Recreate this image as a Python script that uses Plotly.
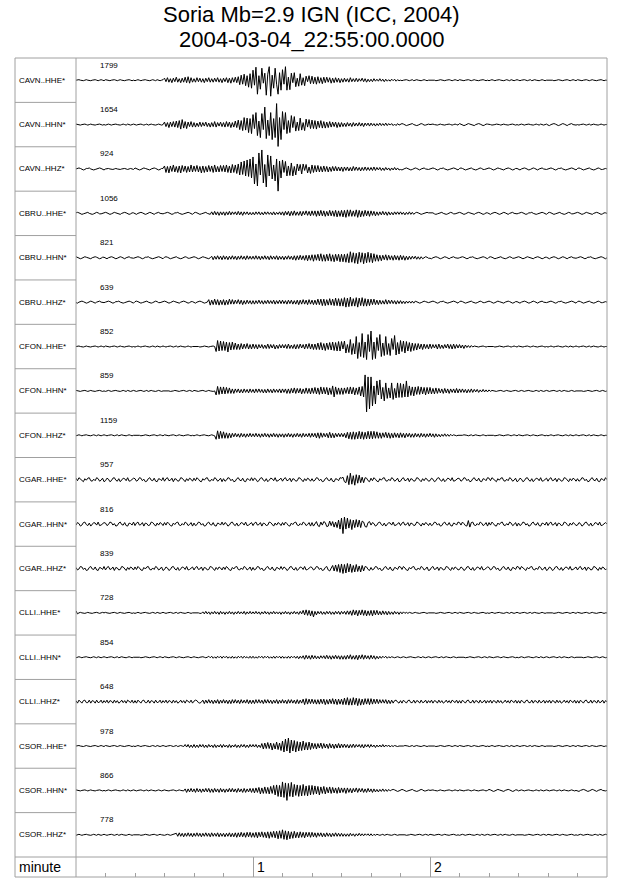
import plotly.graph_objects as go

# channel names and the peak counts printed over each trace
channels = ['CAVN..HHE*', 'CAVN..HHN*', 'CAVN..HHZ*',
            'CBRU..HHE*', 'CBRU..HHN*', 'CBRU..HHZ*',
            'CFON..HHE*', 'CFON..HHN*', 'CFON..HHZ*',
            'CGAR..HHE*', 'CGAR..HHN*', 'CGAR..HHZ*',
            'CLLI..HHE*', 'CLLI..HHN*', 'CLLI..HHZ*',
            'CSOR..HHE*', 'CSOR..HHN*', 'CSOR..HHZ*']
peaks = [1799, 1654, 924, 1056, 821, 639, 852, 859, 1159,
         957, 816, 839, 728, 854, 648, 978, 866, 778]
minute_labels = [1, 2]

# two samples per second from 22:55:00
# (units = half a screen pixel, one line = 10 s)
CAVN_HHE = [
    0, 1, 1, 0, -1, -1, 0, 1, 0, -1, -1, 0, 1, 1, 0, -1, 0, 1, 0, -1,
    1, 0, -1, -1, 0, 1, 1, 0, -1, 0, 1, 0, -1, -1, 0, 1, 1, 0, -1, 0,
    -1, 0, 1, 0, -1, 0, 1, 1, 0, -1, -1, 0, 1, 0, -1, 1, 0, -1, 0, 1,
    4, -3, 5, -4, 3, -5, 4, -3, 6, -4, 3, -5, 4, -4, 6, -5, 7, -6, 5, -4,
    3, -4, 5, -3, 4, -4, 3, -5, 4, -3, 5, -4, 3, -4, 4, -3, 5, -4, 3, -5,
    4, -3, 5, -5, 4, -6, 5, -4, 6, -5, 7, -9, 10, -8, 12, -11, 9, -14, 13, -16,
    20, -10, 26, -28, 9, -18, 24, -6, 14, -30, 12, 27, -32, 10, -16, 24, -8, -28, 15, -20,
    21, -8, 27, -20, 6, -19, 14, -5, 15, -13, 4, -12, 13, -10, 5, -11, 8, -3, 9, -7,
    8, -7, 6, -8, 7, -6, 5, -7, 6, -5, 6, -4, 5, -6, 4, -5, 5, -4, 4, -5,
    3, -4, 4, -3, 3, -4, 5, -3, 3, -3, 4, -3, 3, -2, 4, -3, 3, -4, 2, -3,
    2, -3, 3, -2, 2, -2, 3, -2, 2, -3, 2, -2, 1, -2, 2, -1, 2, -2, 1, -1,
    0, -1, 0, 1, 1, 0, -1, 0, 1, -1, 0, 1, 0, -1, -1, 0, 1, 0, -1, 0,
    0, 1, 1, 0, -1, -1, 0, 1, 0, -1, -1, 0, 1, 1, 0, -1, 0, 1, 0, -1,
    1, 0, -1, -1, 0, 1, 1, 0, -1, 0, 1, 0, -1, -1, 0, 1, 1, 0, -1, 0,
    -1, 0, 1, 0, -1, 0, 1, 1, 0, -1, -1, 0, 1, 0, -1, 1, 0, -1, 0, 1,
    0, -1, 0, 1, 1, 0, -1, 0, 1, -1, 0, 1, 0, -1, -1, 0, 1, 0, -1, 0,
    0, 1, 1, 0, -1, -1, 0, 1, 0, -1, -1, 0, 1, 1, 0, -1, 0, 1, 0, -1,
    1, 0, -1, -1, 0, 1, 1, 0, -1, 0, 1, 0, -1, -1, 0, 1, 1, 0, -1, 0,
    0]
CAVN_HHN = [
    1, 0, -1, -1, 0, 1, 1, 0, -1, 0, 1, 0, -1, -1, 0, 1, 1, 0, -1, 0,
    -1, 0, 1, 0, -1, 0, 1, 1, 0, -1, -1, 0, 1, 0, -1, 1, 0, -1, 0, 1,
    0, -1, 0, 1, 1, 0, -1, 0, 1, -1, 0, 1, 0, -1, -1, 0, 1, 0, -1, 0,
    5, -4, 4, -6, 5, -4, 6, -5, 7, -6, 8, -9, 10, -7, 6, -8, 5, -4, 6, -5,
    4, -5, 3, -4, 5, -4, 4, -3, 5, -4, 3, -5, 4, -4, 6, -5, 4, -3, 5, -4,
    4, -5, 6, -4, 5, -6, 4, -5, 7, -6, 9, -10, 8, -12, 14, -11, 13, -16, 12, -18,
    20, -8, 24, -22, 7, -26, 22, -10, 35, -28, 9, -22, 24, -30, 12, -26, 42, -44, 14, -30,
    26, -10, 24, -18, 8, -16, 18, -6, 16, -13, 5, -12, 13, -11, 4, -12, 11, -5, 10, -8,
    9, -8, 8, -9, 7, -6, 8, -7, 6, -7, 5, -6, 6, -5, 5, -4, 5, -6, 4, -5,
    4, -4, 3, -4, 4, -3, 3, -4, 4, -3, 3, -3, 4, -3, 3, -4, 3, -2, 3, -3,
    3, -2, 2, -3, 2, -2, 3, -2, 2, -2, 3, -2, 2, -1, 2, -2, 1, -2, 2, -1,
    1, 2, 1, -1, -2, -1, 0, 1, 2, 0, -1, -2, -1, 1, 2, 1, -1, -1, 0, 1,
    0, 1, 1, 0, -1, -1, 0, 1, 0, -1, -1, 0, 1, 1, 0, -1, 0, 1, 0, -1,
    2, 1, -1, -2, -1, 1, 2, 1, 0, -1, -2, 0, 1, 2, 1, -1, -2, -1, 1, 1,
    1, 0, -1, -1, 0, 1, 1, 0, -1, 0, 1, 0, -1, -1, 0, 1, 1, 0, -1, 0,
    -1, 0, 1, 0, -1, 0, 1, 1, 0, -1, -1, 0, 1, 0, -1, 1, 0, -1, 0, 1,
    -1, -2, 0, 1, 2, 1, -1, -2, -1, 0, 2, 1, -1, -2, 0, 1, 2, 0, -1, -1,
    0, -1, 0, 1, 1, 0, -1, 0, 1, -1, 0, 1, 0, -1, -1, 0, 1, 0, -1, 0,
    0]
CAVN_HHZ = [
    0, 1, 2, 1, -1, -2, -1, 1, 1, 2, 0, -1, -2, -1, 0, 1, 2, 1, -1, -2,
    0, 1, 1, 0, -1, -1, 0, 1, 0, -1, -1, 0, 1, 1, 0, -1, 0, 1, 0, -1,
    2, 1, -1, -2, -1, 1, 2, 1, 0, -1, -2, 0, 1, 2, 1, -1, -2, -1, 1, 1,
    6, -7, 5, -8, 6, -5, 8, -6, 5, -7, 6, -8, 7, -5, 6, -7, 5, -6, 8, -6,
    6, -5, 7, -6, 5, -8, 6, -7, 5, -6, 7, -5, 6, -7, 8, -6, 5, -6, 7, -5,
    7, -6, 8, -7, 6, -8, 9, -7, 8, -9, 10, -12, 14, -11, 16, -14, 18, -15, 20, -18,
    24, -30, 10, -34, 32, -12, 38, -28, 9, -36, 28, -14, 26, -20, 8, -24, 20, -45, 16, -18,
    18, -7, 15, -14, 6, -13, 12, -14, 5, -12, 10, -4, 9, -10, 10, -3, 9, -8, 4, -9,
    8, -7, 7, -6, 7, -6, 5, -6, 6, -5, 5, -6, 4, -5, 5, -4, 5, -4, 4, -4,
    4, -5, 4, -3, 4, -4, 3, -4, 5, -3, 4, -3, 3, -4, 3, -3, 4, -3, 3, -3,
    3, -3, 4, -3, 3, -2, 3, -3, 2, -3, 3, -2, 2, -3, 2, -2, 3, -2, 2, -2,
    -1, -2, 0, 1, 2, 1, -1, -2, -1, 0, 2, 1, -1, -2, 0, 1, 2, 0, -1, -1,
    0, 1, 2, 1, -1, -2, -1, 1, 1, 2, 0, -1, -2, -1, 0, 1, 2, 1, -1, -2,
    1, 2, 1, -1, -2, -1, 0, 1, 2, 0, -1, -2, -1, 1, 2, 1, -1, -1, 0, 1,
    2, 1, -1, -2, -1, 1, 2, 1, 0, -1, -2, 0, 1, 2, 1, -1, -2, -1, 1, 1,
    -1, -2, 0, 1, 2, 1, -1, -2, -1, 0, 2, 1, -1, -2, 0, 1, 2, 0, -1, -1,
    0, 1, 2, 1, -1, -2, -1, 1, 1, 2, 0, -1, -2, -1, 0, 1, 2, 1, -1, -2,
    1, 2, 1, -1, -2, -1, 0, 1, 2, 0, -1, -2, -1, 1, 2, 1, -1, -1, 0, 1,
    0]
CBRU_HHE = [
    1, 2, 1, -1, -2, -1, 0, 1, 2, 0, -1, -2, -1, 1, 2, 1, -1, -1, 0, 1,
    2, 1, -1, -2, -1, 1, 2, 1, 0, -1, -2, 0, 1, 2, 1, -1, -2, -1, 1, 1,
    -1, -2, 0, 1, 2, 1, -1, -2, -1, 0, 2, 1, -1, -2, 0, 1, 2, 0, -1, -1,
    0, 1, 2, 1, -1, -2, -1, 1, 1, 2, 0, -1, -2, -1, 0, 1, 2, 1, -1, -2,
    1, 2, 1, -1, -2, -1, 0, 1, 2, 0, -1, -2, 3, -3, 4, -3, 3, -4, 3, -3,
    3, -4, 3, -3, 4, -3, 3, -2, 3, -3, 4, -3, 3, -4, 3, -2, 3, -3, 2, -3,
    2, -3, 3, -2, 3, -3, 2, -3, 3, -2, 3, -2, 2, -3, 3, -3, 2, -2, 3, -3,
    3, -4, 4, -3, 4, -5, 4, -4, 5, -4, 3, -4, 4, -5, 4, -3, 5, -4, 4, -5,
    5, -4, 5, -6, 5, -5, 6, -5, 5, -6, 4, -5, 6, -5, 5, -6, 6, -7, 5, -6,
    6, -7, 6, -8, 7, -6, 7, -6, 5, -6, 7, -8, 6, -7, 5, -6, 6, -5, 5, -6,
    5, -4, 4, -5, 3, -4, 3, -3, 4, -3, 3, -4, 3, -3, 2, -3, 3, -2, 3, -2,
    3, -2, 2, -3, 2, -2, 3, -2, 2, -2, 1, 2, 1, -1, -2, -1, 0, 1, 2, 1,
    1, 2, 1, -1, -2, -1, 0, 1, 2, 0, -1, -2, -1, 1, 2, 1, -1, -1, 0, 1,
    2, 1, -1, -2, -1, 1, 2, 1, 0, -1, -2, 0, 1, 2, 1, -1, -2, -1, 1, 1,
    -1, -2, 0, 1, 2, 1, -1, -2, -1, 0, 2, 1, -1, -2, 0, 1, 2, 0, -1, -1,
    0, 1, 2, 1, -1, -2, -1, 1, 1, 2, 0, -1, -2, -1, 0, 1, 2, 1, -1, -2,
    1, 2, 1, -1, -2, -1, 0, 1, 2, 0, -1, -2, -1, 1, 2, 1, -1, -1, 0, 1,
    2, 1, -1, -2, -1, 1, 2, 1, 0, -1, -2, 0, 1, 2, 1, -1, -2, -1, 1, 1,
    0]
CBRU_HHN = [
    2, 1, -1, -2, -1, 1, 2, 1, 0, -1, -2, 0, 1, 2, 1, -1, -2, -1, 1, 1,
    -1, -2, 0, 1, 2, 1, -1, -2, -1, 0, 2, 1, -1, -2, 0, 1, 2, 0, -1, -1,
    0, 1, 2, 1, -1, -2, -1, 1, 1, 2, 0, -1, -2, -1, 0, 1, 2, 1, -1, -2,
    1, 2, 1, -1, -2, -1, 0, 1, 2, 0, -1, -2, -1, 1, 2, 1, -1, -1, 0, 1,
    2, 1, -1, -2, -1, 1, 2, 1, 0, -1, -2, 0, 3, -4, 3, -3, 4, -3, 3, -4,
    4, -3, 3, -4, 3, -3, 4, -3, 3, -4, 3, -3, 4, -3, 3, -4, 4, -3, 3, -3,
    3, -3, 4, -3, 3, -4, 3, -3, 4, -3, 3, -4, 4, -3, 3, -3, 4, -4, 3, -3,
    3, -4, 3, -3, 4, -3, 3, -4, 4, -5, 4, -4, 5, -4, 4, -5, 5, -6, 5, -5,
    6, -7, 6, -5, 7, -6, 8, -7, 6, -7, 7, -6, 8, -7, 6, -8, 7, -6, 7, -8,
    7, -8, 7, -9, 8, -10, 12, -9, 10, -11, 9, -12, 11, -9, 10, -12, 9, -10, 11, -9,
    9, -10, 8, -7, 6, -7, 5, -6, 5, -4, 6, -5, 5, -4, 4, -5, 5, -4, 4, -5,
    5, -4, 4, -5, 3, -4, 3, -3, 3, -2, 3, -3, 2, -3, 2, -2, 1, 2, 1, -1,
    -1, -2, 0, 1, 2, 1, -1, -2, -1, 0, 2, 1, -1, -2, 0, 1, 2, 0, -1, -1,
    0, 1, 2, 1, -1, -2, -1, 1, 1, 2, 0, -1, -2, -1, 0, 1, 2, 1, -1, -2,
    1, 2, 1, -1, -2, -1, 0, 1, 2, 0, -1, -2, -1, 1, 2, 1, -1, -1, 0, 1,
    2, 1, -1, -2, -1, 1, 2, 1, 0, -1, -2, 0, 1, 2, 1, -1, -2, -1, 1, 1,
    -1, -2, 0, 1, 2, 1, -1, -2, -1, 0, 2, 1, -1, -2, 0, 1, 2, 0, -1, -1,
    0, 1, 2, 1, -1, -2, -1, 1, 1, 2, 0, -1, -2, -1, 0, 1, 2, 1, -1, -2,
    0]
CBRU_HHZ = [
    -1, -2, 0, 1, 2, 1, -1, -2, -1, 0, 2, 1, -1, -2, 0, 1, 2, 0, -1, -1,
    0, 1, 2, 1, -1, -2, -1, 1, 1, 2, 0, -1, -2, -1, 0, 1, 2, 1, -1, -2,
    1, 2, 1, -1, -2, -1, 0, 1, 2, 0, -1, -2, -1, 1, 2, 1, -1, -1, 0, 1,
    2, 1, -1, -2, -1, 1, 2, 1, 0, -1, -2, 0, 1, 2, 1, -1, -2, -1, 1, 1,
    -1, -2, 0, 1, 2, 1, -1, -2, -1, 0, 5, -6, 4, -5, 6, -5, 5, -6, 4, -5,
    5, -6, 4, -5, 6, -4, 5, -4, 4, -3, 5, -4, 4, -5, 3, -4, 4, -3, 3, -4,
    3, -4, 3, -3, 4, -3, 3, -4, 3, -3, 4, -3, 3, -3, 4, -4, 3, -3, 4, -3,
    4, -3, 3, -4, 4, -3, 4, -4, 3, -4, 4, -5, 4, -4, 5, -4, 4, -5, 5, -4,
    4, -5, 4, -5, 6, -5, 6, -7, 6, -7, 5, -6, 7, -6, 6, -7, 8, -7, 7, -8,
    7, -8, 9, -10, 8, -9, 10, -8, 7, -8, 9, -10, 8, -7, 9, -8, 7, -8, 6, -7,
    6, -5, 6, -5, 4, -5, 4, -4, 3, -4, 5, -4, 4, -3, 4, -3, 3, -4, 3, -3,
    3, -3, 2, -3, 2, -2, 2, -2, 2, -2, 2, 1, -1, -2, -1, 1, 2, 1, 0, -1,
    0, 1, 2, 1, -1, -2, -1, 1, 1, 2, 0, -1, -2, -1, 0, 1, 2, 1, -1, -2,
    1, 2, 1, -1, -2, -1, 0, 1, 2, 0, -1, -2, -1, 1, 2, 1, -1, -1, 0, 1,
    2, 1, -1, -2, -1, 1, 2, 1, 0, -1, -2, 0, 1, 2, 1, -1, -2, -1, 1, 1,
    -1, -2, 0, 1, 2, 1, -1, -2, -1, 0, 2, 1, -1, -2, 0, 1, 2, 0, -1, -1,
    0, 1, 2, 1, -1, -2, -1, 1, 1, 2, 0, -1, -2, -1, 0, 1, 2, 1, -1, -2,
    1, 2, 1, -1, -2, -1, 0, 1, 2, 0, -1, -2, -1, 1, 2, 1, -1, -1, 0, 1,
    0]
CFON_HHE = [
    0, 1, 1, 0, -1, -1, 0, 1, 0, -1, -1, 0, 1, 1, 0, -1, 0, 1, 0, -1,
    1, 0, -1, -1, 0, 1, 1, 0, -1, 0, 1, 0, -1, -1, 0, 1, 1, 0, -1, 0,
    -1, 0, 1, 0, -1, 0, 1, 1, 0, -1, -1, 0, 1, 0, -1, 1, 0, -1, 0, 1,
    0, -1, 0, 1, 1, 0, -1, 0, 1, -1, 0, 1, 0, -1, -1, 0, 1, 0, -1, 0,
    0, 1, 1, 0, -1, -1, 0, 1, 0, -1, -1, 0, 1, 1, 0, -10, 12, -9, 11, -8,
    10, -8, 9, -11, 8, -7, 9, -6, 7, -6, 5, -6, 6, -5, 5, -4, 6, -5, 4, -5,
    5, -4, 4, -5, 4, -3, 4, -4, 3, -4, 5, -4, 4, -3, 4, -5, 3, -4, 4, -3,
    4, -3, 4, -4, 5, -4, 3, -4, 4, -5, 4, -4, 5, -3, 4, -5, 5, -4, 6, -5,
    5, -6, 5, -6, 7, -6, 8, -7, 6, -8, 7, -6, 8, -7, 9, -8, 8, -9, 10, -9,
    10, -5, 11, -13, 4, -12, 14, -16, 6, -15, 20, -24, 8, -20, 26, -22, 9, -26, 24, -10,
    31, -26, 9, -24, 18, -8, 24, -20, 7, -18, 20, -16, 6, -18, 16, -6, 22, -17, 8, -15,
    12, -10, 11, -13, 10, -9, 8, -10, 7, -8, 6, -7, 6, -5, 5, -6, 5, -4, 4, -5,
    5, -4, 4, -3, 4, -5, 5, -4, 3, -4, 4, -3, 5, -4, 4, -5, 5, -4, 4, -3,
    4, -3, 3, -4, 3, -2, 2, -2, 2, -1, 1, 0, -1, -1, 0, 1, 1, 0, -1, 0,
    0, 1, 1, 0, -1, -1, 0, 1, 0, -1, -1, 0, 1, 1, 0, -1, 0, 1, 0, -1,
    1, 0, -1, -1, 0, 1, 1, 0, -1, 0, 1, 0, -1, -1, 0, 1, 1, 0, -1, 0,
    -1, 0, 1, 0, -1, 0, 1, 1, 0, -1, -1, 0, 1, 0, -1, 1, 0, -1, 0, 1,
    0, -1, 0, 1, 1, 0, -1, 0, 1, -1, 0, 1, 0, -1, -1, 0, 1, 0, -1, 0,
    0]
CFON_HHN = [
    1, 0, -1, -1, 0, 1, 1, 0, -1, 0, 1, 0, -1, -1, 0, 1, 1, 0, -1, 0,
    -1, 0, 1, 0, -1, 0, 1, 1, 0, -1, -1, 0, 1, 0, -1, 1, 0, -1, 0, 1,
    0, -1, 0, 1, 1, 0, -1, 0, 1, -1, 0, 1, 0, -1, -1, 0, 1, 0, -1, 0,
    0, 1, 1, 0, -1, -1, 0, 1, 0, -1, -1, 0, 1, 1, 0, -1, 0, 1, 0, -1,
    1, 0, -1, -1, 0, 1, 1, 0, -1, 0, 1, 0, -1, -1, 0, -8, 9, -7, 8, -6,
    8, -6, 7, -5, 6, -5, 4, -5, 4, -3, 4, -4, 3, -4, 4, -3, 3, -4, 4, -3,
    3, -4, 4, -3, 4, -3, 3, -4, 3, -4, 4, -3, 3, -4, 4, -3, 3, -3, 4, -4,
    4, -3, 4, -5, 4, -5, 5, -4, 6, -5, 5, -4, 5, -6, 4, -5, 6, -5, 5, -6,
    6, -5, 7, -6, 6, -7, 8, -6, 7, -6, 7, -8, 6, -7, 10, -12, 8, -7, 6, -7,
    6, -7, 6, -5, 7, -6, 8, -6, 7, -8, 6, -7, 8, -10, 9, -12, 32, -42, 28, -36,
    28, -30, 10, -26, 20, -8, 22, -16, 7, -20, 16, -15, 6, -14, 16, -17, 5, -14, 16, -13,
    15, -13, 14, -12, 20, -12, 10, -9, 8, -10, 8, -7, 9, -7, 8, -6, 7, -8, 7, -6,
    7, -6, 5, -6, 6, -5, 5, -4, 4, -5, 5, -4, 4, -5, 4, -3, 4, -4, 5, -4,
    4, -3, 4, -3, 3, -4, 3, -3, 4, -3, 3, -2, 3, -3, 2, -2, 3, -2, 2, -2,
    2, -1, 1, 0, -1, -1, 0, 1, 1, 0, -1, 0, 1, 0, -1, -1, 0, 1, 1, 0,
    -1, 0, 1, 0, -1, 0, 1, 1, 0, -1, -1, 0, 1, 0, -1, 1, 0, -1, 0, 1,
    0, -1, 0, 1, 1, 0, -1, 0, 1, -1, 0, 1, 0, -1, -1, 0, 1, 0, -1, 0,
    0, 1, 1, 0, -1, -1, 0, 1, 0, -1, -1, 0, 1, 1, 0, -1, 0, 1, 0, -1,
    0]
CFON_HHZ = [
    -1, 0, 1, 0, -1, 0, 1, 1, 0, -1, -1, 0, 1, 0, -1, 1, 0, -1, 0, 1,
    0, -1, 0, 1, 1, 0, -1, 0, 1, -1, 0, 1, 0, -1, -1, 0, 1, 0, -1, 0,
    0, 1, 1, 0, -1, -1, 0, 1, 0, -1, -1, 0, 1, 1, 0, -1, 0, 1, 0, -1,
    1, 0, -1, -1, 0, 1, 1, 0, -1, 0, 1, 0, -1, -1, 0, 1, 1, 0, -1, 0,
    -1, 0, 1, 0, -1, 0, 1, 1, 0, -1, -1, 0, 1, 0, -1, -8, 9, -7, 8, -6,
    7, -6, 5, -6, 4, -5, 4, -3, 4, -3, 3, -4, 4, -3, 3, -4, 3, -3, 4, -3,
    3, -3, 4, -3, 3, -4, 3, -3, 4, -3, 3, -4, 3, -3, 4, -3, 3, -4, 3, -3,
    3, -4, 3, -3, 4, -3, 3, -4, 3, -3, 4, -3, 3, -4, 4, -3, 3, -3, 4, -4,
    4, -3, 4, -5, 5, -6, 5, -4, 4, -3, 4, -5, 6, -5, 4, -5, 4, -3, 4, -3,
    4, -3, 4, -5, 6, -7, 6, -8, 7, -8, 6, -7, 8, -7, 7, -8, 6, -7, 8, -7,
    8, -7, 8, -6, 7, -6, 5, -6, 5, -4, 6, -5, 5, -6, 4, -5, 5, -4, 4, -5,
    5, -4, 4, -5, 4, -3, 4, -4, 3, -4, 4, -3, 3, -4, 4, -3, 3, -4, 3, -3,
    4, -3, 3, -4, 3, -3, 2, -3, 2, -2, 3, -2, 2, -2, 2, -1, 1, 0, -1, 0,
    0, -1, 0, 1, 1, 0, -1, 0, 1, -1, 0, 1, 0, -1, -1, 0, 1, 0, -1, 0,
    0, 1, 1, 0, -1, -1, 0, 1, 0, -1, -1, 0, 1, 1, 0, -1, 0, 1, 0, -1,
    1, 0, -1, -1, 0, 1, 1, 0, -1, 0, 1, 0, -1, -1, 0, 1, 1, 0, -1, 0,
    -1, 0, 1, 0, -1, 0, 1, 1, 0, -1, -1, 0, 1, 0, -1, 1, 0, -1, 0, 1,
    0, -1, 0, 1, 1, 0, -1, 0, 1, -1, 0, 1, 0, -1, -1, 0, 1, 0, -1, 0,
    0]
CGAR_HHE = [
    3, -2, 4, 1, -3, -4, 2, -1, 3, 4, -2, -3, 1, -2, 4, 2, -3, -1, 3, -4,
    -2, 3, 1, -4, -2, 3, 4, -1, -3, 2, -4, -1, 3, 2, -2, 4, -3, -2, 1, 3,
    2, -3, -1, 4, 3, -2, 1, -4, -3, 2, 4, -1, -2, 3, -3, -4, 2, 1, -2, 4,
    -3, 2, 4, -2, -1, 3, -4, 2, 1, -3, -2, 4, 3, -1, -4, 2, -2, 3, 1, -3,
    3, -2, 4, 1, -3, -4, 2, -1, 3, 4, -2, -3, 1, -2, 4, 2, -3, -1, 3, -4,
    2, -3, -1, 4, 3, -2, 1, -4, -3, 2, 4, -1, -2, 3, -3, -4, 2, 1, -2, 4,
    -2, 3, 1, -4, -2, 3, 4, -1, -3, 2, -4, -1, 3, 2, -2, 4, -3, -2, 1, 3,
    -3, 2, 4, -2, -1, 3, -4, 2, 1, -3, -2, 4, 3, -1, -4, 2, -2, 3, 1, -3,
    2, -3, -1, 4, 3, -2, 1, -4, -3, 2, 4, -1, -2, 3, -3, -4, 2, 1, -2, 4,
    3, 5, -4, -6, 8, -10, 13, -9, 8, -11, 10, -7, 9, -6, 5, -6, 4, 3, -2, -4,
    3, -2, 4, 1, -3, -4, 2, -1, 3, 4, -2, -3, 1, -2, 4, 2, -3, -1, 3, -4,
    -3, 2, 4, -2, -1, 3, -4, 2, 1, -3, -2, 4, 3, -1, -4, 2, -2, 3, 1, -3,
    -2, 3, 1, -4, -2, 3, 4, -1, -3, 2, -4, -1, 3, 2, -2, 4, -3, -2, 1, 3,
    2, -3, -1, 4, 3, -2, 1, -4, -3, 2, 4, -1, -2, 3, -3, -4, 2, 1, -2, 4,
    3, -2, 4, 1, -3, -4, 2, -1, 3, 4, -2, -3, 1, -2, 4, 2, -3, -1, 3, -4,
    -2, 3, 1, -4, -2, 3, 4, -1, -3, 2, -4, -1, 3, 2, -2, 4, -3, -2, 1, 3,
    -3, 2, 4, -2, -1, 3, -4, 2, 1, -3, -2, 4, 3, -1, -4, 2, -2, 3, 1, -3,
    2, -3, -1, 4, 3, -2, 1, -4, -3, 2, 4, -1, -2, 3, -3, -4, 2, 1, -2, 4,
    0]
CGAR_HHN = [
    -2, 3, 1, -4, -2, 3, 4, -1, -3, 2, -4, -1, 3, 2, -2, 4, -3, -2, 1, 3,
    2, -3, -1, 4, 3, -2, 1, -4, -3, 2, 4, -1, -2, 3, -3, -4, 2, 1, -2, 4,
    -3, 2, 4, -2, -1, 3, -4, 2, 1, -3, -2, 4, 3, -1, -4, 2, -2, 3, 1, -3,
    3, -2, 4, 1, -3, -4, 2, -1, 3, 4, -2, -3, 1, -2, 4, 2, -3, -1, 3, -4,
    2, -3, -1, 4, 3, -2, 1, -4, -3, 2, 4, -1, -2, 3, -3, -4, 2, 1, -2, 4,
    -2, 3, 1, -4, -2, 3, 4, -1, -3, 2, -4, -1, 3, 2, -2, 4, -3, -2, 1, 3,
    -3, 2, 4, -2, -1, 3, -4, 2, 1, -3, -2, 4, 3, -1, -4, 2, -2, 3, 1, -3,
    3, -2, 4, 1, -3, -4, 2, -1, 3, 4, -2, -3, 1, -2, 4, 2, -3, -1, 3, -4,
    3, -4, 2, 5, -3, -5, 4, -2, 5, 3, -5, -4, 6, -3, 5, -6, 4, -7, 8, -10,
    12, -19, 14, -10, 12, -8, 9, -11, 8, -7, 9, -6, 8, -7, 6, 4, -5, -6, 3, 5,
    -2, 3, 1, -4, -2, 3, 4, -1, -3, 2, -4, -1, 3, 2, -2, 4, -3, -2, 1, 3,
    -3, 2, 4, -2, -1, 3, -4, 2, 1, -3, -2, 4, 3, -1, -4, 2, -2, 3, 1, -3,
    2, -3, -1, 4, 3, -2, 1, -4, -3, 2, 4, -1, -2, 3, -3, -4, 2, 1, -2, 4,
    3, -2, 4, 1, -3, -4, 7, -6, 3, 4, -2, -3, 1, -2, 4, 2, -3, -1, 3, -4,
    3, -2, 4, 1, -3, -4, 2, -1, 3, 4, -2, -3, 1, -2, 4, 2, -3, -1, 3, -4,
    2, -3, -1, 4, 3, -2, 1, -4, -3, 2, 4, -1, -2, 3, -3, -4, 2, 1, -2, 4,
    -3, 2, 4, -2, -1, 3, -4, 2, 1, -3, -2, 4, 3, -1, -4, 2, -2, 3, 1, -3,
    -2, 3, 1, -4, -2, 3, 4, -1, -3, 2, -4, -1, 3, 2, -2, 4, -3, -2, 1, 3,
    0]
CGAR_HHZ = [
    2, -3, -1, 4, 3, -2, 1, -4, -3, 2, 4, -1, -2, 3, -3, -4, 2, 1, -2, 4,
    -3, 2, 4, -2, -1, 3, -4, 2, 1, -3, -2, 4, 3, -1, -4, 2, -2, 3, 1, -3,
    3, -2, 4, 1, -3, -4, 2, -1, 3, 4, -2, -3, 1, -2, 4, 2, -3, -1, 3, -4,
    -2, 3, 1, -4, -2, 3, 4, -1, -3, 2, -4, -1, 3, 2, -2, 4, -3, -2, 1, 3,
    -3, 2, 4, -2, -1, 3, -4, 2, 1, -3, -2, 4, 3, -1, -4, 2, -2, 3, 1, -3,
    3, -2, 4, 1, -3, -4, 2, -1, 3, 4, -2, -3, 1, -2, 4, 2, -3, -1, 3, -4,
    2, -3, -1, 4, 3, -2, 1, -4, -3, 2, 4, -1, -2, 3, -3, -4, 2, 1, -2, 4,
    -2, 3, 1, -4, -2, 3, 4, -1, -3, 2, -4, -1, 3, 2, -2, 4, -3, -2, 1, 3,
    2, -3, -1, 4, 3, -2, 1, -4, -3, 2, 4, -3, -5, 2, 6, -5, 7, -6, 8, -8,
    9, -10, 8, -9, 10, -7, 9, -8, 6, -7, 8, -6, 5, -7, 6, -5, 4, 3, -2, -4,
    2, -3, -1, 4, 3, -2, 1, -4, -3, 2, 4, -1, -2, 3, -3, -4, 2, 1, -2, 4,
    3, -2, 4, 1, -3, -4, 2, -1, 3, 4, -2, -3, 1, -2, 4, 2, -3, -1, 3, -4,
    -3, 2, 4, -2, -1, 3, -4, 2, 1, -3, -2, 4, 3, -1, -4, 2, -2, 3, 1, -3,
    -2, 3, 1, -4, -2, 3, 4, -1, -3, 2, -4, -1, 3, 2, -2, 4, -3, -2, 1, 3,
    2, -3, -1, 4, 3, -2, 1, -4, -3, 2, 4, -1, -2, 3, -3, -4, 2, 1, -2, 4,
    3, -2, 4, 1, -3, -4, 2, -1, 3, 4, -2, -3, 1, -2, 4, 2, -3, -1, 3, -4,
    -2, 3, 1, -4, -2, 3, 4, -1, -3, 2, -4, -1, 3, 2, -2, 4, -3, -2, 1, 3,
    -3, 2, 4, -2, -1, 3, -4, 2, 1, -3, -2, 4, 3, -1, -4, 2, -2, 3, 1, -3,
    0]
CLLI_HHE = [
    4, -2, 0, 1, 0, -1, -1, 0, 1, 0, -1, -1, 0, 1, 1, 0, -1, 0, 1, 0,
    1, 0, -1, -1, 0, 1, 1, 0, -1, 0, 1, 0, -1, -1, 0, 1, 1, 0, -1, 0,
    -1, 0, 1, 0, -1, 0, 1, 1, 0, -1, -1, 0, 1, 0, -1, 1, 0, -1, 0, 1,
    0, -1, 0, 1, 1, 0, -1, 0, 1, -1, 0, 1, 0, -1, -1, 0, 1, 0, -1, 0,
    0, 1, 1, 0, -1, -1, 2, -2, 3, -2, 2, -3, 2, -2, 3, -2, 2, -3, 3, -2,
    2, -3, 2, -2, 3, -2, 2, -3, 2, -2, 3, -2, 2, -2, 3, -3, 2, -2, 3, -2,
    2, -2, 3, -2, 2, -3, 2, -2, 3, -2, 2, -3, 2, -2, 3, -2, 2, -2, 2, -3,
    2, -2, 3, -2, 2, -3, 2, -2, 3, -2, 2, -3, 3, -2, 5, -4, 6, -5, 5, -6,
    4, -8, 3, -4, 3, -2, 3, -3, 2, -3, 3, -2, 3, -3, 2, -3, 3, -2, 3, -3,
    3, -2, 3, -3, 4, -3, 4, -5, 6, -4, 5, -6, 5, -4, 6, -5, 5, -6, 4, -5,
    5, -6, 5, -4, 5, -4, 3, -4, 4, -3, 3, -4, 3, -3, 2, -3, 3, -2, 2, -3,
    2, -2, 2, -1, 1, -1, 1, 0, -1, 0, 1, 0, -1, -1, 0, 1, 1, 0, -1, 0,
    0, 1, 1, 0, -1, -1, 0, 1, 0, -1, -1, 0, 1, 1, 0, -1, 0, 1, 0, -1,
    1, 0, -1, -1, 0, 1, 1, 0, -1, 0, 1, 0, -1, -1, 0, 1, 1, 0, -1, 0,
    -1, 0, 1, 0, -1, 0, 1, 1, 0, -1, -1, 0, 1, 0, -1, 1, 0, -1, 0, 1,
    0, -1, 0, 1, 1, 0, -1, 0, 1, -1, 0, 1, 0, -1, -1, 0, 1, 0, -1, 0,
    0, 1, 1, 0, -1, -1, 0, 1, 0, -1, -1, 0, 1, 1, 0, -1, 0, 1, 0, -1,
    1, 0, -1, -1, 0, 1, 1, 0, -1, 0, 1, 0, -1, -1, 0, 1, 1, 0, -1, 0,
    0]
CLLI_HHN = [
    -1, 0, 1, 0, -1, 0, 1, 1, 0, -1, -1, 0, 1, 0, -1, 1, 0, -1, 0, 1,
    0, -1, 0, 1, 1, 0, -1, 0, 1, -1, 0, 1, 0, -1, -1, 0, 1, 0, -1, 0,
    0, 1, 1, 0, -1, -1, 0, 1, 0, -1, -1, 0, 1, 1, 0, -1, 0, 1, 0, -1,
    1, 0, -1, -1, 0, 1, 1, 0, -1, 0, 1, 0, -1, -1, 0, 1, 1, 0, -1, 0,
    1, 0, -1, -1, 0, 1, 1, 0, -1, 0, 2, -1, 2, -2, 1, -2, 2, -1, 2, -2,
    2, -1, 2, -2, 1, -2, 2, -2, 1, -2, 2, -1, 2, -2, 2, -1, 1, -2, 2, -2,
    2, -2, 1, -2, 2, -1, 2, -2, 2, -1, 2, -2, 1, -2, 2, -2, 2, -1, 2, -2,
    2, -2, 1, -2, 2, -2, 2, -1, 2, -2, 2, -3, 2, -2, 3, -4, 4, -3, 3, -4,
    4, -3, 3, -3, 2, -3, 3, -2, 3, -3, 4, -3, 3, -4, 3, -3, 4, -3, 3, -4,
    3, -4, 3, -4, 4, -3, 5, -4, 3, -4, 4, -5, 4, -3, 5, -4, 4, -3, 3, -4,
    4, -3, 3, -4, 2, -3, 2, -2, 2, -1, 2, -2, 1, -1, 1, 0, -1, 0, 1, 0,
    -1, 0, 1, 0, -1, 0, 1, 1, 0, -1, -1, 0, 1, 0, -1, 1, 0, -1, 0, 1,
    0, -1, 0, 1, 1, 0, -1, 0, 1, -1, 0, 1, 0, -1, -1, 0, 1, 0, -1, 0,
    0, 1, 1, 0, -1, -1, 0, 1, 0, -1, -1, 0, 1, 1, 0, -1, 0, 1, 0, -1,
    1, 0, -1, -1, 0, 1, 1, 0, -1, 0, 1, 0, -1, -1, 0, 1, 1, 0, -1, 0,
    -1, 0, 1, 0, -1, 0, 1, 1, 0, -1, -1, 0, 1, 0, -1, 1, 0, -1, 0, 1,
    0, -1, 0, 1, 1, 0, -1, 0, 1, -1, 0, 1, 0, -1, -1, 0, 1, 0, -1, 0,
    0, 1, 1, 0, -1, -1, 0, 1, 0, -1, -1, 0, 1, 1, 0, -1, 0, 1, 0, -1,
    0]
CLLI_HHZ = [
    2, -3, 3, -1, -3, 2, 3, -2, -2, 3, -3, 2, 1, -3, 3, -2, -1, 3, -3, 2,
    -2, 3, -3, 2, 1, -3, 3, -2, 2, -3, -1, 3, -2, 2, -3, 3, 1, -2, 3, -3,
    2, -3, 3, -1, -3, 2, 3, -2, -2, 3, -3, 2, 1, -3, 3, -2, -1, 3, -3, 2,
    -2, 3, -3, 2, 1, -3, 3, -2, 2, -3, -1, 3, -2, 2, -3, 3, 1, -2, 3, -3,
    1, 3, 2, -2, -3, -1, 3, -4, 3, -3, 4, -3, 3, -4, 3, -3, 4, -4, 3, -3,
    4, -3, 3, -4, 3, -4, 4, -3, 4, -3, 3, -4, 4, -3, 3, -3, 4, -4, 3, -4,
    3, -4, 4, -3, 4, -3, 3, -4, 4, -3, 4, -3, 3, -4, 3, -3, 4, -4, 3, -3,
    4, -3, 3, -4, 4, -3, 4, -3, 3, -4, 4, -4, 3, -3, 5, -6, 6, -5, 5, -4,
    5, -4, 4, -5, 4, -5, 5, -4, 5, -6, 4, -5, 5, -4, 6, -5, 5, -6, 5, -5,
    5, -6, 7, -6, 8, -7, 6, -7, 8, -6, 7, -8, 6, -7, 5, -6, 6, -5, 6, -6,
    6, -5, 5, -4, 5, -4, 4, -3, 4, -3, 4, -4, 3, -4, 3, -3, 2, 3, -1, -3,
    2, -3, 3, -1, -3, 2, 3, -2, -2, 3, -3, 2, 1, -3, 3, -2, -1, 3, -3, 2,
    -2, 3, -3, 2, 1, -3, 3, -2, 2, -3, -1, 3, -2, 2, -3, 3, 1, -2, 3, -3,
    2, -3, 3, -1, -3, 2, 3, -2, -2, 3, -3, 2, 1, -3, 3, -2, -1, 3, -3, 2,
    -2, 3, -3, 2, 1, -3, 3, -2, 2, -3, -1, 3, -2, 2, -3, 3, 1, -2, 3, -3,
    2, -3, 3, -1, -3, 2, 3, -2, -2, 3, -3, 2, 1, -3, 3, -2, -1, 3, -3, 2,
    -2, 3, -3, 2, 1, -3, 3, -2, 2, -3, -1, 3, -2, 2, -3, 3, 1, -2, 3, -3,
    2, -3, 3, -1, -3, 2, 3, -2, -2, 3, -3, 2, 1, -3, 3, -2, -1, 3, -3, 2,
    0]
CSOR_HHE = [
    0, 1, 1, 0, -1, -1, 0, 1, 0, -1, -1, 0, 1, 1, 0, -1, 0, 1, 0, -1,
    1, 0, -1, -1, 0, 1, 1, 0, -1, 0, 1, 0, -1, -1, 0, 1, 1, 0, -1, 0,
    -1, 0, 1, 0, -1, 0, 1, 1, 0, -1, -1, 0, 1, 0, -1, 1, 0, -1, 0, 1,
    0, -1, 0, 1, 1, 0, -1, 0, 1, -1, 0, 1, 0, -1, 3, -2, 3, -3, 2, -3,
    3, -3, 2, -3, 3, -2, 3, -3, 2, -3, 3, -2, 2, -3, 3, -3, 2, -2, 3, -3,
    3, -2, 2, -3, 3, -3, 2, -2, 3, -3, 2, -3, 3, -2, 3, -3, 2, -3, 3, -2,
    3, -2, 3, -3, 2, -3, 5, -6, 6, -5, 7, -5, 6, -8, 5, -6, 8, -7, 6, -9,
    10, -12, 14, -10, 16, -14, 12, -10, 11, -12, 9, -10, 8, -9, 10, -8, 7, -8, 8, -7,
    6, -5, 5, -6, 5, -4, 6, -5, 5, -4, 4, -5, 5, -4, 4, -5, 4, -4, 5, -4,
    4, -3, 4, -3, 3, -4, 3, -3, 4, -3, 3, -2, 3, -3, 3, -4, 3, -2, 3, -3,
    3, -2, 2, -3, 2, -2, 2, -2, 3, -2, 2, -1, 2, -2, 1, -1, 1, 0, -1, 0,
    0, -1, 0, 1, 1, 0, -1, 0, 1, -1, 0, 1, 0, -1, -1, 0, 1, 0, -1, 0,
    0, 1, 1, 0, -1, -1, 0, 1, 0, -1, -1, 0, 1, 1, 0, -1, 0, 1, 0, -1,
    1, 0, -1, -1, 0, 1, 1, 0, -1, 0, 1, 0, -1, -1, 0, 1, 1, 0, -1, 0,
    -1, 0, 1, 0, -1, 0, 1, 1, 0, -1, -1, 0, 1, 0, -1, 1, 0, -1, 0, 1,
    0, -1, 0, 1, 1, 0, -1, 0, 1, -1, 0, 1, 0, -1, -1, 0, 1, 0, -1, 0,
    0, 1, 1, 0, -1, -1, 0, 1, 0, -1, -1, 0, 1, 1, 0, -1, 0, 1, 0, -1,
    1, 0, -1, -1, 0, 1, 1, 0, -1, 0, 1, 0, -1, -1, 0, 1, 1, 0, -1, 0,
    0]
CSOR_HHN = [
    1, 0, -1, -1, 0, 1, 1, 0, -1, 0, 1, 0, -1, -1, 0, 1, 1, 0, -1, 0,
    -1, 0, 1, 0, -1, 0, 1, 1, 0, -1, -1, 0, 1, 0, -1, 1, 0, -1, 0, 1,
    0, -1, 0, 1, 1, 0, -1, 0, 1, -1, 0, 1, 0, -1, -1, 0, 1, 0, -1, 0,
    1, 0, -1, -1, 0, 1, 1, 0, -1, 0, 1, 0, -1, -1, 3, -4, 3, -3, 4, -3,
    3, -4, 4, -3, 3, -4, 3, -3, 4, -3, 4, -4, 3, -4, 4, -3, 3, -4, 4, -3,
    3, -4, 3, -3, 4, -3, 4, -3, 3, -4, 4, -3, 3, -4, 4, -4, 3, -3, 4, -4,
    4, -5, 5, -4, 6, -7, 5, -6, 7, -6, 6, -7, 8, -6, 10, -9, 11, -12, 10, -13,
    17, -14, 15, -20, 14, -12, 16, -13, 12, -10, 11, -12, 10, -11, 12, -10, 9, -11, 10, -9,
    10, -8, 9, -7, 8, -9, 7, -6, 8, -7, 6, -5, 7, -6, 6, -5, 5, -6, 6, -5,
    5, -4, 5, -6, 5, -4, 4, -5, 4, -3, 5, -4, 4, -3, 4, -4, 3, -4, 4, -3,
    3, -4, 3, -3, 2, -3, 2, -2, 3, -2, 2, -2, 2, -1, 1, 2, 1, -1, -2, -1,
    1, 2, 1, -1, -2, -1, 0, 1, 2, 0, -1, -2, -1, 1, 2, 1, -1, -1, 0, 1,
    0, 1, 1, 0, -1, -1, 0, 1, 0, -1, -1, 0, 1, 1, 0, -1, 0, 1, 0, -1,
    1, 0, -1, -1, 0, 1, 1, 0, -1, 0, 1, 0, -1, -1, 0, 1, 1, 0, -1, 0,
    2, 1, -1, -2, -1, 1, 2, 1, 0, -1, -2, 0, 1, 2, 1, -1, -2, -1, 1, 1,
    -1, 0, 1, 0, -1, 0, 1, 1, 0, -1, -1, 0, 1, 0, -1, 1, 0, -1, 0, 1,
    0, -1, 0, 1, 1, 0, -1, 0, 1, -1, 0, 1, 0, -1, -1, 0, 1, 0, -1, 0,
    -1, -2, 0, 1, 2, 1, -1, -2, -1, 0, 2, 1, -1, -2, 0, 1, 2, 0, -1, -1,
    0]
CSOR_HHZ = [
    -1, 0, 1, 0, -1, 0, 1, 1, 0, -1, -1, 0, 1, 0, -1, 1, 0, -1, 0, 1,
    0, -1, 0, 1, 1, 0, -1, 0, 1, -1, 0, 1, 0, -1, -1, 0, 1, 0, -1, 0,
    0, 1, 1, 0, -1, -1, 0, 1, 0, -1, -1, 0, 1, 1, 0, -1, 0, 1, 0, -1,
    -1, 0, 1, 0, -1, 0, 1, 1, 3, -3, 4, -3, 3, -4, 3, -3, 4, -3, 3, -4,
    3, -3, 4, -3, 3, -4, 3, -3, 4, -3, 3, -4, 4, -3, 3, -3, 4, -4, 3, -3,
    3, -4, 3, -3, 4, -4, 3, -4, 4, -5, 4, -4, 5, -4, 4, -5, 5, -4, 5, -5,
    4, -5, 5, -6, 5, -4, 6, -5, 5, -6, 6, -7, 6, -5, 7, -6, 7, -8, 8, -7,
    10, -9, 8, -10, 7, -8, 6, -7, 7, -6, 5, -6, 6, -5, 5, -6, 5, -4, 5, -5,
    5, -4, 4, -5, 4, -3, 4, -4, 3, -4, 4, -3, 3, -4, 3, -3, 4, -3, 3, -3,
    3, -3, 2, -3, 2, -3, 3, -2, 2, -3, 2, -2, 3, -2, 2, -2, 2, -1, 2, -2,
    2, -2, 1, -1, 1, 0, -1, 0, 1, -1, 0, 1, 0, -1, -1, 0, 1, 0, -1, 0,
    0, 1, 1, 0, -1, -1, 0, 1, 0, -1, -1, 0, 1, 1, 0, -1, 0, 1, 0, -1,
    1, 0, -1, -1, 0, 1, 1, 0, -1, 0, 1, 0, -1, -1, 0, 1, 1, 0, -1, 0,
    -1, 0, 1, 0, -1, 0, 1, 1, 0, -1, -1, 0, 1, 0, -1, 1, 0, -1, 0, 1,
    0, -1, 0, 1, 1, 0, -1, 0, 1, -1, 0, 1, 0, -1, -1, 0, 1, 0, -1, 0,
    0, 1, 1, 0, -1, -1, 0, 1, 0, -1, -1, 0, 1, 1, 0, -1, 0, 1, 0, -1,
    1, 0, -1, -1, 0, 1, 1, 0, -1, 0, 1, 0, -1, -1, 0, 1, 1, 0, -1, 0,
    -1, 0, 1, 0, -1, 0, 1, 1, 0, -1, -1, 0, 1, 0, -1, 1, 0, -1, 0, 1,
    0]

waves = [CAVN_HHE, CAVN_HHN, CAVN_HHZ, CBRU_HHE, CBRU_HHN, CBRU_HHZ,
         CFON_HHE, CFON_HHN, CFON_HHZ, CGAR_HHE, CGAR_HHN, CGAR_HHZ,
         CLLI_HHE, CLLI_HHN, CLLI_HHZ, CSOR_HHE, CSOR_HHN, CSOR_HHZ]

FONT = 'Liberation Sans, Arial, Helvetica, sans-serif'
GREY = '#a0a0a0'
n = len(channels)
ROW = 44.4      # px per trace row
STRIP = 20.0    # px of the minute strip
H = n * ROW + STRIP
x_start = 61 / 592  # label column width inside the frame

fig = go.Figure()
axes = {}
for k, (name, peak, wave) in enumerate(zip(channels, peaks, waves), start=1):
    sfx = '' if k == 1 else str(k)
    top = 1 - (k - 1) * ROW / H
    bottom = 1 - k * ROW / H
    fig.add_trace(go.Scatter(y=wave, x0=0, dx=1 / 120, mode='lines',
                             xaxis='x' + sfx, yaxis='y' + sfx,
                             line=dict(color='black', width=1),
                             hoverinfo='skip', showlegend=False))
    axes['xaxis' + sfx] = dict(domain=[x_start, 1], range=[0, 3], anchor='y' + sfx,
                              visible=False, fixedrange=True)
    axes['yaxis' + sfx] = dict(domain=[bottom, top], range=[-ROW, ROW], anchor='x' + sfx,
                              visible=False, fixedrange=True)
    fig.add_annotation(x=0.125, y=30, xref='x' + sfx, yref='y' + sfx,
                       text=str(peak), showarrow=False, xanchor='left', yanchor='middle',
                       font=dict(size=8, family=FONT, color='black'))
    fig.add_annotation(x=2 / 592, y=0, xref='paper', yref='y' + sfx,
                       text=name, showarrow=False, xanchor='left', yanchor='middle',
                       font=dict(size=8, family=FONT, color='black'))
    if k < n:
        fig.add_shape(type='line', xref='paper', yref='paper',
                      x0=0, x1=x_start, y0=bottom, y1=bottom,
                      line=dict(color=GREY, width=1))

# the last x axis sits at the bottom of the frame and carries the minute ticks
axes['xaxis%d' % n].update(visible=True, anchor='free', position=0,
                           showline=False, showgrid=False, zeroline=False,
                           tick0=0, dtick=1, ticks='inside', ticklen=STRIP,
                           tickwidth=1, tickcolor=GREY, showticklabels=False,
                           minor=dict(tick0=0, dtick=1 / 6, ticks='inside',
                                      ticklen=4, tickwidth=1, tickcolor=GREY))
fig.update_layout(**axes)

for m in minute_labels:
    fig.add_annotation(x=m, y=STRIP / 2 / H, xref='x%d' % n, yref='paper',
                       text=str(m), showarrow=False, xanchor='left', yanchor='middle',
                       xshift=2, font=dict(size=14, family=FONT, color='black'))
fig.add_annotation(x=2 / 592, y=STRIP / 2 / H, xref='paper', yref='paper',
                   text='minute', showarrow=False, xanchor='left', yanchor='middle',
                   font=dict(size=14, family=FONT, color='black'))
fig.add_shape(type='line', xref='paper', yref='paper', x0=0, x1=1,
              y0=STRIP / H, y1=STRIP / H, line=dict(color=GREY, width=1))

# frame and label column divider
fig.add_shape(type='rect', xref='paper', yref='paper', x0=0, x1=1, y0=0, y1=1,
              line=dict(color=GREY, width=1))
fig.add_shape(type='line', xref='paper', yref='paper', x0=x_start, x1=x_start,
              y0=0, y1=1, line=dict(color=GREY, width=1))

# two title lines
fig.add_annotation(x=0.5, y=1.0537, xref='paper', yref='paper',
                   text='Soria Mb=2.9 IGN (ICC, 2004)', showarrow=False,
                   yanchor='middle', font=dict(size=22, family=FONT, color='black'))
fig.add_annotation(x=0.5, y=1.0220, xref='paper', yref='paper',
                   text='2004-03-04_22:55:00.0000', showarrow=False,
                   yanchor='middle', font=dict(size=22, family=FONT, color='black'))

fig.update_layout(
    width=640, height=878, autosize=False,
    margin=dict(l=15, r=33, t=58, b=1),
    paper_bgcolor='white', plot_bgcolor='white',
    showlegend=False, hovermode=False,
)

# drop the browser's default 8px body margin so the figure fills the window
fig.write_html('out.html', config={'displayModeBar': False},
               post_script="document.body.style.margin = '0';")
